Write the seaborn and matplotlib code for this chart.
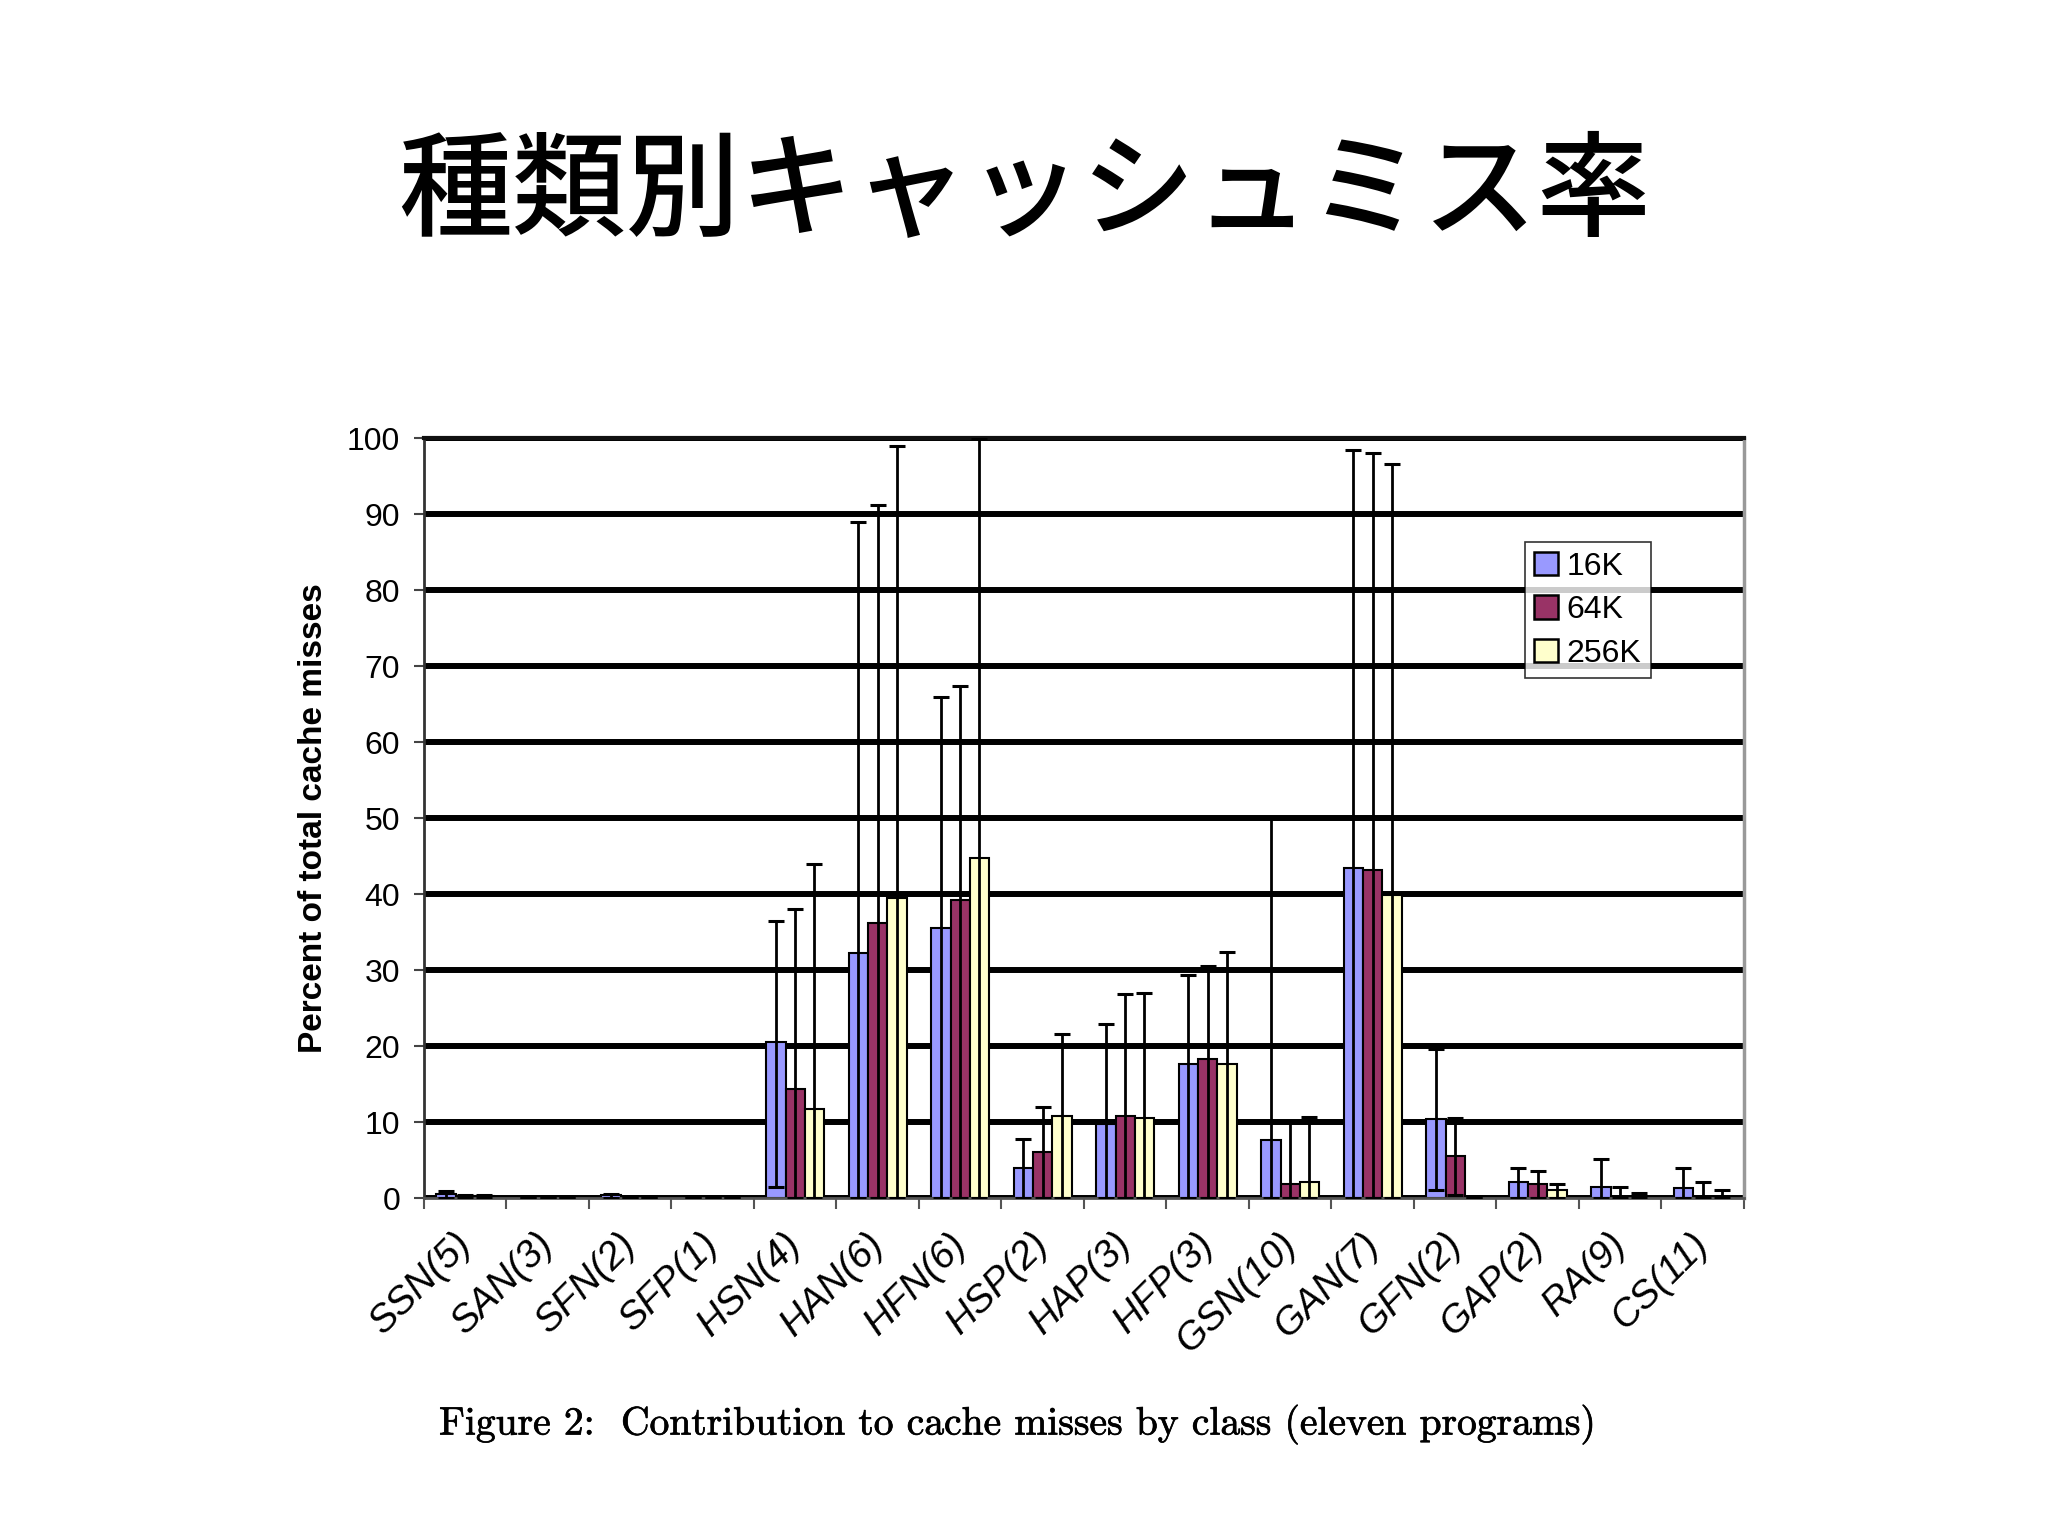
import numpy as np
import pandas as pd
import matplotlib
matplotlib.use("Agg")
import matplotlib.pyplot as plt
import matplotlib.transforms as mtrans
import matplotlib.patheffects as pe
from matplotlib.ticker import FixedLocator, MultipleLocator
import seaborn as sns

# --- data ---
classes = ['SSN(5)', 'SAN(3)', 'SFN(2)', 'SFP(1)', 'HSN(4)', 'HAN(6)', 'HFN(6)', 'HSP(2)',
           'HAP(3)', 'HFP(3)', 'GSN(10)', 'GAN(7)', 'GFN(2)', 'GAP(2)', 'RA(9)', 'CS(11)']
sizes = ['16K', '64K', '256K']

val_16k = [0.5, 0.1, 0.4, 0.1, 20.5, 32.3, 35.5, 3.9, 9.8, 17.6, 7.6, 43.4, 10.4, 2.1, 1.5, 1.3]
val_64k = [0.3, 0.1, 0.1, 0.1, 14.3, 36.2, 39.2, 6.0, 10.8, 18.3, 1.8, 43.2, 5.5, 1.9, 0.2, 0.2]
val_256k = [0.3, 0.1, 0.1, 0.1, 11.7, 39.5, 44.8, 10.8, 10.6, 17.6, 2.1, 39.9, 0.1, 1.1, 0.1, 0.1]

hi_16k = [0.9, 0.1, 0.6, 0.1, 36.5, 89.0, 66.0, 7.8, 22.9, 29.3, 50.0, 98.4, 19.6, 3.9, 5.1, 4.0]
hi_64k = [0.4, 0.1, 0.2, 0.1, 38.0, 91.2, 67.4, 12.0, 26.9, 30.5, 10.0, 98.0, 10.5, 3.6, 1.5, 2.1]
hi_256k = [0.4, 0.1, 0.1, 0.1, 44.0, 99.0, 100.0, 21.6, 27.0, 32.4, 10.7, 96.6, 0.1, 1.9, 0.7, 1.0]

lo_16k = [0, 0, 0, 0, 1.5, 0, 0, 0, 0, 0, 0, 0, 1.0, 0, 0, 0]
lo_64k = [0, 0, 0, 0, 0, 0, 0, 0, 0, 0, 0, 0, 0.4, 0, 0, 0]
lo_256k = [0, 0, 0, 0, 0, 0, 0, 0, 0, 0, 0, 0, 0, 0, 0, 0]

colors = ['#9999FF', '#993366', '#FFFFCC']

title = '種類別キャッシュミス率'
ylabel = 'Percent of total cache misses'
caption = 'Figure 2:  Contribution to cache misses by class (eleven programs)'

df = pd.DataFrame({
    'cls': classes * 3,
    'size': [s for s in sizes for _ in classes],
    'value': val_16k + val_64k + val_256k,
})

sns.set_style('white')
plt.rcParams['font.family'] = ['Liberation Sans', 'DejaVu Sans']
plt.rcParams['text.color'] = 'black'
plt.rcParams['axes.labelcolor'] = 'black'
plt.rcParams['xtick.color'] = 'black'
plt.rcParams['ytick.color'] = 'black'

fig = plt.figure(figsize=(20.48, 15.35), dpi=100)
fig.patch.set_facecolor('white')
ax = fig.add_axes([0.207, 0.2195, 0.6445, 0.495])

sns.barplot(data=df, x='cls', y='value', hue='size', order=classes, hue_order=sizes,
            palette=colors, width=0.7, edgecolor='black', linewidth=1.5,
            errorbar=None, saturation=1, ax=ax)

# error bars (range lo..hi) on each bar
for cont, lo, hi in zip(ax.containers, [lo_16k, lo_64k, lo_256k], [hi_16k, hi_64k, hi_256k]):
    xs = np.array([b.get_x() + b.get_width() / 2 for b in cont])
    ys = np.array([b.get_height() for b in cont])
    yerr = [ys - np.array(lo), np.array(hi) - ys]
    ax.errorbar(xs, ys, yerr=yerr, fmt='none', ecolor='black', elinewidth=2.0,
                capsize=6, capthick=2.2, zorder=3)

ax.set_ylim(0, 100)
ax.set_xlim(-0.5, len(classes) - 0.5)
ax.yaxis.set_major_locator(MultipleLocator(10))
ax.set_axisbelow(True)
ax.yaxis.grid(True, color='black', linewidth=4.3)
ax.xaxis.grid(False)

ax.tick_params(axis='y', which='major', direction='out', length=7, width=1.5,
               color='#444444', labelsize=23, pad=10, left=True)
ax.xaxis.set_minor_locator(FixedLocator(np.arange(-0.5, len(classes), 1.0)))
ax.tick_params(axis='x', which='minor', direction='out', length=8, width=1.5,
               color='#555555', bottom=True)
ax.tick_params(axis='x', which='major', length=0, pad=20)
ax.set_xticks(range(len(classes)))
ax.set_xticklabels(classes, rotation=45, ha='right', rotation_mode='anchor',
                   fontsize=28, style='italic')
offset = mtrans.ScaledTranslation(-0.12, 0, fig.dpi_scale_trans)
for lab in ax.get_xticklabels():
    lab.set_transform(lab.get_transform() + offset)

ax.set_xlabel('')
ax.set_ylabel(ylabel, fontsize=24, fontweight='bold')
ax.yaxis.set_label_coords(-0.072, 0.5)

for side, col, lw in [('left', '#333333', 2.0), ('bottom', '#555555', 2.0),
                      ('top', '#111111', 3.0), ('right', '#999999', 2.5)]:
    ax.spines[side].set_visible(True)
    ax.spines[side].set_color(col)
    ax.spines[side].set_linewidth(lw)

h, l = ax.get_legend_handles_labels()
leg = ax.legend(h, l, loc='upper left', bbox_to_anchor=(0.834, 0.863), borderaxespad=0,
                fontsize=23, frameon=True, fancybox=False, edgecolor='black',
                handlelength=0.75, handleheight=0.75, handletextpad=0.25,
                labelspacing=0.42, borderpad=0.3)
leg.get_frame().set_linewidth(1.2)
for p in leg.get_patches():
    p.set_edgecolor('black')
    p.set_linewidth(1.8)

fig.text(0.5, 0.873, title, ha='center', va='center', fontsize=82, color='black',
         fontweight='medium', family=['Noto Sans CJK JP', 'DejaVu Sans'])
fig.text(0.497, 0.072, caption, ha='center', va='center', fontsize=28.5, color='black',
         family=['cmr10', 'DejaVu Serif'],
         path_effects=[pe.withStroke(linewidth=0.5, foreground='black')])

fig.savefig('out.png', dpi=100, facecolor='white')
